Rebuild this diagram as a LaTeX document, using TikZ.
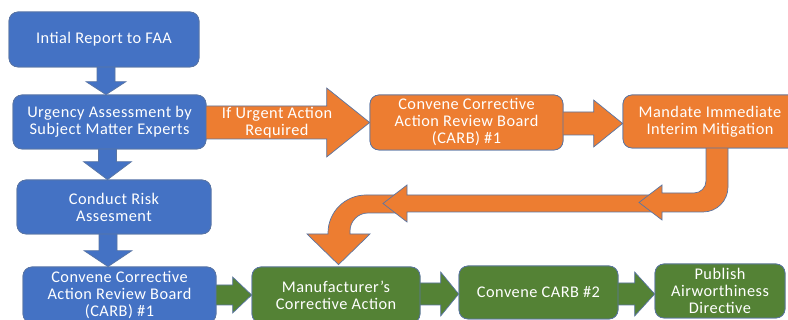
\documentclass[tikz,border=0pt]{standalone}
\usepackage{fontspec}
\setmainfont{Carlito}[LetterSpace=3]
\usetikzlibrary{calc}
\definecolor{cblue}{HTML}{4472C4}
\definecolor{corange}{HTML}{ED7D31}
\definecolor{cgreen}{HTML}{548235}
\definecolor{cline}{HTML}{5A75A3}
\tikzset{
  boxbase/.style={rectangle, rounded corners=9pt, draw=cline, line width=0.7pt,
    inner sep=0pt, align=center, text=white, font=\fontsize{16.3}{17}\selectfont},
  bluebox/.style={boxbase, fill=cblue},
  orangebox/.style={boxbase, fill=corange},
  greenbox/.style={boxbase, fill=cgreen},
  bluearr/.style={fill=cblue, draw=cline, line width=0.7pt, line join=miter},
  orangearr/.style={fill=corange, draw=cline, line width=0.7pt, line join=miter},
  greenarr/.style={fill=cgreen, draw=cline, line width=0.7pt, line join=miter},
  arrlabel/.style={align=center, text=white, inner sep=0pt, font=\fontsize{16.3}{17}\selectfont}
}
% horizontal block arrow: style, from, to, yc, shaft half, head half, head length
\newcommand\harr[7]{%
  \path[#1] let \p1=(#2.east), \p2=(#3.west) in
   (\x1-2pt,#4pt+#5pt) -- (\x2-#7pt,#4pt+#5pt) -- (\x2-#7pt,#4pt+#6pt) -- (\x2,#4pt)
   -- (\x2-#7pt,#4pt-#6pt) -- (\x2-#7pt,#4pt-#5pt) -- (\x1-2pt,#4pt-#5pt) -- cycle;}
% vertical block arrow (downwards): style, from, to, xc, shaft half, head half, head length
\newcommand\varr[7]{%
  \path[#1] let \p1=(#2.south), \p2=(#3.north) in
   (#4pt-#5pt,\y1+2pt) -- (#4pt-#5pt,\y2+#7pt) -- (#4pt-#6pt,\y2+#7pt) -- (#4pt,\y2)
   -- (#4pt+#6pt,\y2+#7pt) -- (#4pt+#5pt,\y2+#7pt) -- (#4pt+#5pt,\y1+2pt) -- cycle;}
\begin{document}
\begin{tikzpicture}[x=1pt,y=1pt]
\useasboundingbox (0,0) rectangle (788,320);
\clip (0,0) rectangle (788,320);
\fill[white] (0,0) rectangle (788,320);

% nodes (placed first so they can be referenced; drawn again on top)
\path
 (104,280.5) node[bluebox, minimum width=190pt, minimum height=55pt] (b1) {Intial Report to FAA}
 (109.5,198) node[bluebox, minimum width=193pt, minimum height=54pt] (b2) {Urgency Assessment by\\Subject Matter Experts}
 (114,113) node[bluebox, minimum width=194pt, minimum height=54pt] (b5) {Conduct Risk\\Assesment}
 (119.5,25) node[bluebox, minimum width=193pt, minimum height=56pt] (b6) {Convene Corrective\\Action Review Board\\(CARB) \#1}
 (466.5,197.5) node[orangebox, minimum width=193pt, minimum height=55pt] (b3) {Convene Corrective\\Action Review Board\\(CARB) \#1}
 (710,198.5) node[orangebox, minimum width=174pt, minimum height=53pt] (b4) {Mandate Immediate\\Interim Mitigation}
 (336,25) node[greenbox, minimum width=168pt, minimum height=56pt] (b7) {Manufacturer’s\\Corrective Action}
 (538.5,27.5) node[greenbox, minimum width=159pt, minimum height=53pt] (b8) {Convene CARB \#2}
 (720,29) node[greenbox, minimum width=130pt, minimum height=54pt] (b9) {Publish\\Airworthiness\\Directive};

% curved orange arrow into the left-hand return arrow, down to b7
\path[orangearr] let \p1=(b7.north) in
  (400,125) -- (366,125) arc[start angle=90, end angle=180, radius=38]
  -- (328,86) -- (307,86) -- (\x1+2.5pt,\y1+2pt) -- (370,86) -- (350,86) -- (350,89)
  arc[start angle=180, end angle=90, radius=18] -- (400,107) -- cycle;
% straight orange return arrow
\coordinate (retR) at (655,116.5);
\coordinate (retL) at (383,116.5);
\path[orangearr] (retR) ++(0,8.5) -- (407,125) -- (407,135) -- (retL) -- (407,98) -- (407,108) -- ($(retR)+(0,-8.5)$) -- cycle;
% curved orange arrow from b4 down and left
\path[orangearr] let \p1=(b4.south) in
  (706,\y1+2pt) -- (706,139) arc[start angle=0, end angle=-90, radius=12]
  -- (662,127) -- (662,135) -- (639,117.5) -- (662,100) -- (662,108) -- (703,108)
  arc[start angle=-90, end angle=0, radius=25] -- (728,\y1+2pt) -- cycle;

% straight block arrows
\varr{bluearr}{b1}{b2}{106}{9}{20}{13}
\varr{bluearr}{b2}{b5}{107.5}{9}{24}{18}
\varr{bluearr}{b5}{b6}{108}{9}{24}{16}
\harr{orangearr}{b2}{b3}{197.5}{16.5}{34.5}{43}
\harr{orangearr}{b3}{b4}{196.5}{11.5}{23.5}{29}
\harr{greenarr}{b6}{b7}{25}{10}{18}{19}
\harr{greenarr}{b7}{b8}{26}{11}{22}{18}
\harr{greenarr}{b8}{b9}{26}{11}{22}{20}

\node[arrlabel] (lab) at (277,197) {If Urgent Action\\Required};

% boxes on top
\path
 (104,280.5) node[bluebox, minimum width=190pt, minimum height=55pt] {Intial Report to FAA}
 (109.5,198) node[bluebox, minimum width=193pt, minimum height=54pt] {Urgency Assessment by\\Subject Matter Experts}
 (114,113) node[bluebox, minimum width=194pt, minimum height=54pt] {Conduct Risk\\Assesment}
 (119.5,25) node[bluebox, minimum width=193pt, minimum height=56pt] {Convene Corrective\\Action Review Board\\(CARB) \#1}
 (466.5,197.5) node[orangebox, minimum width=193pt, minimum height=55pt] {Convene Corrective\\Action Review Board\\(CARB) \#1}
 (710,198.5) node[orangebox, minimum width=174pt, minimum height=53pt] {Mandate Immediate\\Interim Mitigation}
 (336,25) node[greenbox, minimum width=168pt, minimum height=56pt] {Manufacturer’s\\Corrective Action}
 (538.5,27.5) node[greenbox, minimum width=159pt, minimum height=53pt] {Convene CARB \#2}
 (720,29) node[greenbox, minimum width=130pt, minimum height=54pt] {Publish\\Airworthiness\\Directive};
\end{tikzpicture}
\end{document}
